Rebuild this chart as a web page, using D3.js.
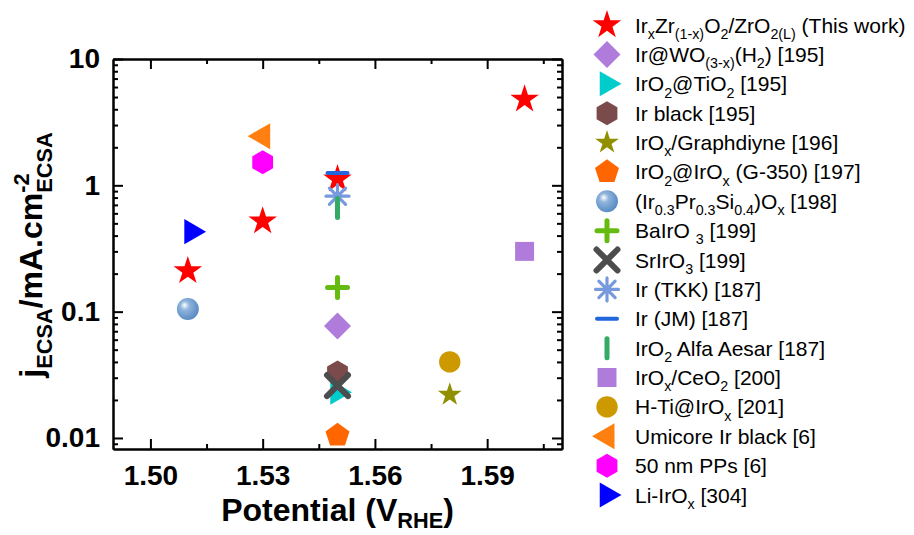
<!DOCTYPE html>
<html>
<head>
<meta charset="utf-8">
<script src="https://cdn.jsdelivr.net/npm/d3@7"></script>
<style>
    body { margin: 0; background: #fff; }
    text { font-family: "Liberation Sans", Arial, sans-serif; fill: #000; }
</style>
</head>
<body>
<svg id="chart" width="914" height="535"></svg>
<script>
"use strict";

//
// Data
//

var seriesLabels = [
    "Ir_{x}Zr_{(1-x)}O_{2}/ZrO_{2(L)} (This work)",
    "Ir@WO_{(3-x)}(H_{2}) [195]",
    "IrO_{2}@TiO_{2} [195]",
    "Ir black [195]",
    "IrO_{x}/Graphdiyne [196]",
    "IrO_{2}@IrO_{x} (G-350) [197]",
    "(Ir_{0.3}Pr_{0.3}Si_{0.4})O_{x} [198]",
    "BaIrO _{3} [199]",
    "SrIrO_{3} [199]",
    "Ir (TKK) [187]",
    "Ir (JM) [187]",
    "IrO_{2} Alfa Aesar [187]",
    "IrO_{x}/CeO_{2} [200]",
    "H-Ti@IrO_{x} [201]",
    "Umicore Ir black [6]",
    "50 nm PPs [6]",
    "Li-IrO_{x} [304]"
];

var seriesX = [
    [1.51, 1.53, 1.55, 1.60],
    [1.55], [1.55], [1.55], [1.58], [1.55], [1.51], [1.55], [1.55],
    [1.55], [1.55], [1.55], [1.60], [1.58], [1.53], [1.53], [1.511]
];

var seriesY = [
    [0.21, 0.52, 1.12, 4.8],
    [0.077], [0.023], [0.033], [0.022], [0.0105], [0.105], [0.155], [0.026],
    [0.82], [1.25], [0.66], [0.30], [0.040], [2.45], [1.52], [0.43]
];

var xTicks = [1.50, 1.53, 1.56, 1.59];
var xMinorTicks = [1.515, 1.545, 1.575, 1.605];
var yTicks = [0.01, 0.1, 1, 10];
var yTickLabels = ["0.01", "0.1", "1", "10"];

var xTitle = "Potential (V_{RHE})";
var yTitle = "j_{ECSA}/mA.cm^{-2}_{ECSA}";


//
// Marker styles (one per series, same order)
//

var markerStyles = [
    { shape: "star",     color: "#ff0000", r: 15 },
    { shape: "diamond",  color: "#b07cdb", r: 13.5 },
    { shape: "triRight", color: "#00cccc", r: 14.5 },
    { shape: "hexagon",  color: "#7b4b4b", r: 12 },
    { shape: "star",     color: "#8f8f00", r: 12.5 },
    { shape: "pentagon", color: "#ff6600", r: 12.6 },
    { shape: "sphere",   color: "#6699cc", r: 11 },
    { shape: "plus",     color: "#66bb11", r: 10 },
    { shape: "cross",    color: "#4d4d4d", r: 10.5 },
    { shape: "asterisk", color: "#7799dd", r: 11.5 },
    { shape: "hdash",    color: "#2266dd", r: 10 },
    { shape: "vbar",     color: "#33aa66", r: 9.5 },
    { shape: "square",   color: "#b07cdb", r: 13.4 },
    { shape: "circle",   color: "#cc9900", r: 10.7 },
    { shape: "triLeft",  color: "#ff8010", r: 15 },
    { shape: "hexagon",  color: "#ff00ff", r: 12 },
    { shape: "triRight", color: "#0000ff", r: 14.5 }
];


//
// Layout
//

var plot = { left: 113, right: 562, top: 59, bottom: 449 };

var svg = d3.select("#chart");

var x = d3.scaleLinear()
    .domain([1.49, 1.61])
    .range([plot.left, plot.right]);

var y = d3.scaleLog()
    .domain([0.00818, 10])
    .range([plot.bottom, plot.top]);

var yMinorTicks = [];
[0.001, 0.01, 0.1, 1].forEach(function (dec) {
    for (var k = 2; k <= 9; k++) {
        var v = dec * k;
        if (v >= y.domain()[0] && v <= y.domain()[1]) yMinorTicks.push(v);
    }
});


//
// Sphere gradient
//

var grad = svg.append("defs").append("radialGradient")
    .attr("id", "sphereGrad")
    .attr("cx", "40%").attr("cy", "40%").attr("r", "60%")
    .attr("fx", "35%").attr("fy", "32%");
grad.append("stop").attr("offset", "0%").attr("stop-color", "#ffffff");
grad.append("stop").attr("offset", "35%").attr("stop-color", "#8fb4dc");
grad.append("stop").attr("offset", "100%").attr("stop-color", "#5a8cc4");


//
// Marker drawing
//

function polygonPath (n, r, a0) {
    var pts = d3.range(n).map(function (i) {
        var a = a0 + 2 * Math.PI * i / n;
        return [r * Math.cos(a), r * Math.sin(a)];
    });
    return "M" + pts.join("L") + "Z";
}

function starPath (r) {
    var pts = d3.range(10).map(function (i) {
        var a = -Math.PI / 2 + Math.PI * i / 5,
            rr = (i % 2 === 0) ? r : r * 0.382;
        return [rr * Math.cos(a), rr * Math.sin(a)];
    });
    return "M" + pts.join("L") + "Z";
}

function drawMarker (g, style) {

    var r = style.r, c = style.color;

    switch (style.shape) {
        case "star":
            g.append("path").attr("d", starPath(r)).attr("fill", c);
            break;
        case "diamond":
            g.append("path").attr("d", polygonPath(4, r, -Math.PI / 2)).attr("fill", c);
            break;
        case "square":
            g.append("path").attr("d", polygonPath(4, r, -Math.PI / 4)).attr("fill", c);
            break;
        case "triRight":
            g.append("path").attr("d", polygonPath(3, r, 0)).attr("fill", c);
            break;
        case "triLeft":
            g.append("path").attr("d", polygonPath(3, r, Math.PI)).attr("fill", c);
            break;
        case "hexagon":
            g.append("path").attr("d", polygonPath(6, r, -Math.PI / 2)).attr("fill", c);
            break;
        case "pentagon":
            g.append("path").attr("d", polygonPath(5, r, -Math.PI / 2)).attr("fill", c);
            break;
        case "circle":
            g.append("circle").attr("r", r).attr("fill", c);
            break;
        case "sphere":
            g.append("circle").attr("r", r).attr("fill", "url(#sphereGrad)");
            break;
        case "plus":
            g.append("path").attr("d", "M" + -r + ",0H" + r + "M0," + -r + "V" + r)
                .attr("stroke", c).attr("stroke-width", 5).attr("stroke-linecap", "round");
            break;
        case "cross":
            g.append("path").attr("d", "M" + -r + "," + -r + "L" + r + "," + r + "M" + -r + "," + r + "L" + r + "," + -r)
                .attr("stroke", c).attr("stroke-width", 6).attr("stroke-linecap", "round");
            break;
        case "asterisk":
            var d = r * Math.SQRT1_2;
            g.append("path")
                .attr("d", "M" + -r + ",0H" + r + "M0," + -r + "V" + r +
                    "M" + -d + "," + -d + "L" + d + "," + d + "M" + -d + "," + d + "L" + d + "," + -d)
                .attr("stroke", c).attr("stroke-width", 3.2).attr("stroke-linecap", "round");
            break;
        case "hdash":
            g.append("path").attr("d", "M" + -r + ",0H" + r)
                .attr("stroke", c).attr("stroke-width", 4).attr("stroke-linecap", "round");
            break;
        case "vbar":
            g.append("path").attr("d", "M0," + -r + "V" + r)
                .attr("stroke", c).attr("stroke-width", 5).attr("stroke-linecap", "round");
            break;
    }
}


//
// Rich text with _{sub} and ^{sup}
//

function appendRich (textSel, str, size, subShift) {

    var parts = str.split(/(_\{[^}]*\}|\^\{[^}]*\})/).filter(function (s) { return s.length; }),
        shift = 0, lastSup = null;

    subShift = subShift || 0.3;

    parts.forEach(function (p) {
        var target = 0, content = p, small = false, kind = "n";
        if (p.indexOf("_{") === 0) { target = subShift * size; content = p.slice(2, -1); small = true; kind = "sub"; }
        else if (p.indexOf("^{") === 0) { target = -0.42 * size; content = p.slice(2, -1); small = true; kind = "sup"; }

        var t = textSel.append("tspan")
            .attr("dy", target - shift)
            .style("font-size", (small ? 0.68 * size : size) + "px")
            .text(content);
        shift = target;

        if (kind === "sub" && lastSup) {
            t.attr("dx", -lastSup.node().getComputedTextLength());
        }
        lastSup = (kind === "sup") ? t : null;
    });
}


//
// Axes
//

function styleAxis (g) {
    g.select(".domain").attr("stroke", "#000").attr("stroke-width", 2);
    g.selectAll(".tick line").attr("stroke", "#000").attr("stroke-width", 2);
}

var fmt = function (d, i) { return yTickLabels[i]; };

var xAxisBottom = svg.append("g")
    .attr("transform", "translate(0," + plot.bottom + ")")
    .call(d3.axisBottom(x).tickValues(xTicks).tickFormat(d3.format(".2f"))
        .tickSizeInner(-10).tickSizeOuter(0).tickPadding(16))
    .call(styleAxis);

xAxisBottom.selectAll("text")
    .style("font-size", "28px").style("font-weight", "bold")
    .style("font-family", "'Liberation Sans', Arial, sans-serif");

svg.append("g")
    .attr("transform", "translate(0," + plot.bottom + ")")
    .call(d3.axisBottom(x).tickValues(xMinorTicks).tickFormat("").tickSizeInner(-5).tickSizeOuter(0))
    .call(styleAxis);

svg.append("g")
    .attr("transform", "translate(0," + plot.top + ")")
    .call(d3.axisTop(x).tickValues(xTicks).tickFormat("").tickSizeInner(-10).tickSizeOuter(0))
    .call(styleAxis);

svg.append("g")
    .attr("transform", "translate(0," + plot.top + ")")
    .call(d3.axisTop(x).tickValues(xMinorTicks).tickFormat("").tickSizeInner(-5).tickSizeOuter(0))
    .call(styleAxis);

var yAxisLeft = svg.append("g")
    .attr("transform", "translate(" + plot.left + ",0)")
    .call(d3.axisLeft(y).tickValues(yTicks).tickFormat(fmt)
        .tickSizeInner(-10).tickSizeOuter(0).tickPadding(13))
    .call(styleAxis);

yAxisLeft.selectAll("text")
    .style("font-size", "28px").style("font-weight", "bold")
    .style("font-family", "'Liberation Sans', Arial, sans-serif");

svg.append("g")
    .attr("transform", "translate(" + plot.left + ",0)")
    .call(d3.axisLeft(y).tickValues(yMinorTicks).tickFormat("").tickSizeInner(-5).tickSizeOuter(0))
    .call(styleAxis);

svg.append("g")
    .attr("transform", "translate(" + plot.right + ",0)")
    .call(d3.axisRight(y).tickValues(yTicks).tickFormat("").tickSizeInner(-10).tickSizeOuter(0))
    .call(styleAxis);

svg.append("g")
    .attr("transform", "translate(" + plot.right + ",0)")
    .call(d3.axisRight(y).tickValues(yMinorTicks).tickFormat("").tickSizeInner(-5).tickSizeOuter(0))
    .call(styleAxis);


//
// Axis titles
//

var xt = svg.append("text")
    .attr("x", (plot.left + plot.right) / 2)
    .attr("y", 521)
    .attr("text-anchor", "middle")
    .style("font-size", "32px").style("font-weight", "bold");
appendRich(xt, xTitle, 32, 0.22);

var yt = svg.append("text")
    .attr("transform", "translate(42,255) rotate(-90)")
    .attr("text-anchor", "middle")
    .style("font-size", "32px").style("font-weight", "bold");
appendRich(yt, yTitle, 32);


//
// Points
//

var points = svg.append("g").attr("class", "points");

seriesLabels.forEach(function (label, i) {
    seriesX[i].forEach(function (xv, j) {
        var g = points.append("g")
            .attr("transform", "translate(" + x(xv) + "," + y(seriesY[i][j]) + ")");
        drawMarker(g, markerStyles[i]);
    });
});


//
// Legend
//

var legendRow = d3.scalePoint()
    .domain(d3.range(seriesLabels.length))
    .range([25, 495]);

var legend = svg.append("g").attr("class", "legend");

seriesLabels.forEach(function (label, i) {
    var row = legend.append("g")
        .attr("transform", "translate(607," + legendRow(i) + ")");
    drawMarker(row, markerStyles[i]);
    var t = row.append("text")
        .attr("x", 28)
        .attr("y", 7.5)
        .style("font-size", "21px");
    appendRich(t, label, 21);
});

</script>
</body>
</html>
